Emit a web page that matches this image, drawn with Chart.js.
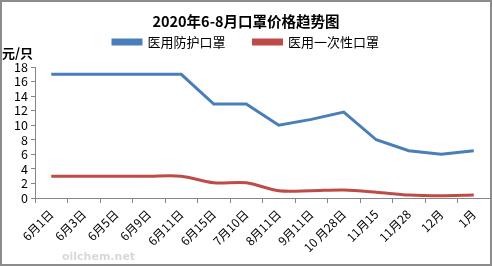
<!DOCTYPE html>
<html>
<head>
<meta charset="utf-8">
<script src="https://cdn.jsdelivr.net/npm/chart.js@4/dist/chart.umd.min.js"></script>
<style>
  html, body { margin: 0; padding: 0; background: #fff; }
  #wrap { width: 492px; height: 266px; position: relative; }
</style>
</head>
<body>
<div id="wrap"><canvas id="c" width="492" height="266"></canvas></div>
<script>
const DATES   = ['6月1日','6月3日','6月5日','6月9日','6月11日','6月15日','7月10日','8月11日','9月11日','10 月28日','11月15','11月28','12月','1月'];
const MEDICAL = [17, 17, 17, 17, 17, 12.9, 12.9, 10, 10.8, 11.8, 8, 6.5, 6, 6.5];
const DISPOS  = [3, 3, 3, 3, 3, 2.1, 2.1, 1, 1, 1.1, 0.8, 0.4, 0.3, 0.4];
const Y_TICKS = [0, 2, 4, 6, 8, 10, 12, 14, 16, 18];

const BLUE = '#4a7ebb', RED = '#be4b48';
const FONT = "'Noto Sans CJK SC', 'DejaVu Sans', sans-serif";

// 外框 + 水印
const frame = {
  id: 'frame',
  beforeDraw(chart) {
    const ctx = chart.ctx;
    ctx.save();
    ctx.fillStyle = '#fff';
    ctx.fillRect(0, 0, chart.width, chart.height);
    ctx.font = "bold 11px 'DejaVu Sans', sans-serif";
    ctx.fillStyle = '#d8d8d8';
    ctx.fillText('oilchem.net', 62, 257);
    ctx.restore();
  },
  afterDraw(chart) {
    const ctx = chart.ctx;
    ctx.save();
    ctx.strokeStyle = '#8c8c8c';
    ctx.lineWidth = 2;
    ctx.strokeRect(1, 1, chart.width - 2, chart.height - 2);
    ctx.restore();
  }
};

new Chart(document.getElementById('c'), {
  type: 'line',
  data: {
    labels: DATES,
    datasets: [
      { label: '医用防护口罩', data: MEDICAL, borderColor: BLUE, backgroundColor: BLUE, borderWidth: 3, pointRadius: 0, tension: 0 },
      { label: '医用一次性口罩', data: DISPOS, borderColor: RED, backgroundColor: RED, borderWidth: 3, pointRadius: 0, tension: 0.3 }
    ]
  },
  plugins: [frame],
  options: {
    responsive: false,
    animation: false,
    layout: { padding: { left: 2, right: 2, top: 0, bottom: 2 } },
    plugins: {
      tooltip: { enabled: false },
      title: {
        display: true, text: '2020年6-8月口罩价格趋势图', color: '#000',
        font: { family: FONT, size: 14.5, weight: 'bold', lineHeight: 1.2 },
        padding: { top: 13, bottom: -23 }
      },
      legend: {
        display: true, position: 'top',
        labels: { color: '#000', font: { family: FONT, size: 13 }, boxWidth: 28, boxHeight: 4, padding: 28 }
      },
      subtitle: {
        display: true, text: '元/只', align: 'start', color: '#000', weight: 500,
        font: { family: FONT, size: 13, weight: 'bold', lineHeight: 1.2 },
        padding: { top: -13, bottom: 6 }
      }
    },
    scales: {
      x: {
        offset: true,
        grid: { display: true, offset: true, drawOnChartArea: false, drawTicks: true, tickLength: 5, color: '#868686' },
        border: { display: true, color: '#868686' },
        ticks: { color: '#000', font: { family: FONT, size: 12 }, minRotation: 45, maxRotation: 45, autoSkip: false, padding: 4 },
        afterFit(s) { s.height = 66; }
      },
      y: {
        min: 0, max: 18,
        afterBuildTicks(s) { s.ticks = Y_TICKS.map(v => ({ value: v })); },
        grid: { display: true, drawOnChartArea: false, drawTicks: true, tickLength: 4, color: '#868686' },
        border: { display: true, color: '#868686' },
        ticks: { color: '#000', font: { family: FONT, size: 12.5 }, padding: 3, autoSkip: false },
        afterFit(s) { s.width = 33; }
      }
    }
  }
});
</script>
</body>
</html>
